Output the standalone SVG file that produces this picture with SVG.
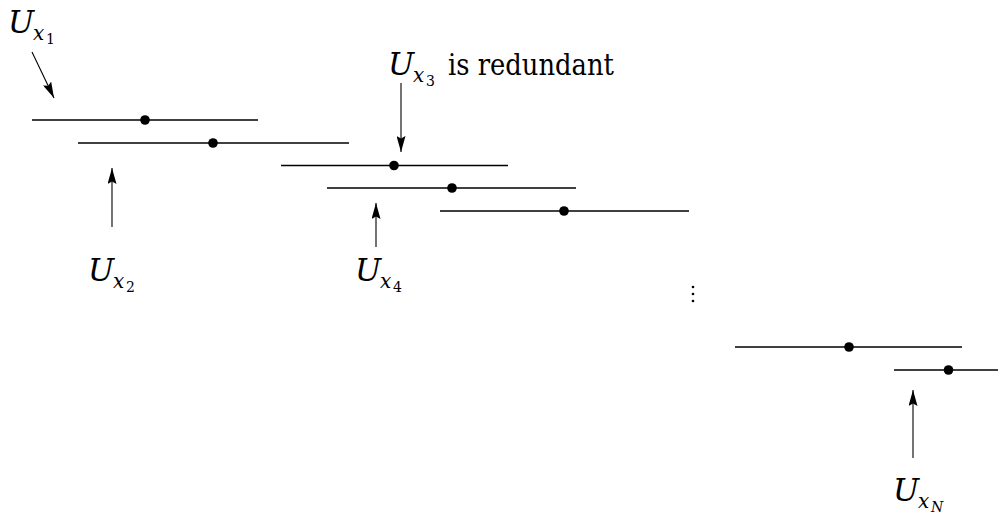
<svg xmlns="http://www.w3.org/2000/svg" width="998" height="516" viewBox="0 0 998 516">
<style>
.iv{stroke:#000;stroke-width:1.3;fill:none}
.dot{fill:#000}
.ar{stroke:#000;stroke-width:1.1;fill:none;marker-end:url(#ah)}
text{font-family:"DejaVu Serif","Liberation Serif",serif;fill:#000}
.U{font-style:italic;font-size:31px}
.x{font-style:italic;font-size:20px}
.n{font-size:14px}
.r{font-size:29px}
</style>
<defs>
<marker id="ah" viewBox="0 0 16 9" refX="16" refY="4.5" markerWidth="16" markerHeight="9" markerUnits="userSpaceOnUse" orient="auto">
<path d="M0,0 L16,4.5 L0,9 L2.5,4.5 Z" fill="#000"/>
</marker>
</defs>
<rect width="998" height="516" fill="#fff"/>
<g id="interval1"><line class="iv" x1="32" y1="120" x2="258" y2="120"/><circle class="dot" cx="145" cy="120" r="4.8"/></g>
<g id="interval2"><line class="iv" x1="78" y1="143" x2="349" y2="143"/><circle class="dot" cx="213" cy="143" r="4.8"/></g>
<g id="interval3"><line class="iv" x1="281" y1="165.5" x2="508" y2="165.5"/><circle class="dot" cx="394" cy="165.5" r="4.8"/></g>
<g id="interval4"><line class="iv" x1="327" y1="188" x2="576" y2="188"/><circle class="dot" cx="452" cy="188" r="4.8"/></g>
<g id="interval5"><line class="iv" x1="440" y1="211" x2="689" y2="211"/><circle class="dot" cx="564" cy="211" r="4.8"/></g>
<g id="interval6"><line class="iv" x1="735" y1="347" x2="962" y2="347"/><circle class="dot" cx="849" cy="347" r="4.8"/></g>
<g id="interval7"><line class="iv" x1="894" y1="370" x2="998" y2="370"/><circle class="dot" cx="948.5" cy="370" r="4.8"/></g>
<g id="vdots"><circle class="dot" cx="693" cy="287" r="1.3"/><circle class="dot" cx="693" cy="294" r="1.3"/><circle class="dot" cx="693" cy="301" r="1.3"/></g>
<g id="label1"><text class="U" x="8" y="33">U</text><text class="x" x="33" y="40">x</text><text class="n" x="46" y="44">1</text></g>
<g id="label2"><text class="U" x="88" y="281">U</text><text class="x" x="113" y="288">x</text><text class="n" x="126" y="292">2</text></g>
<g id="label3"><text class="U" x="388" y="75">U</text><text class="x" x="413" y="82">x</text><text class="n" x="426" y="86">3</text><text class="r" x="448" y="75" textLength="166" lengthAdjust="spacingAndGlyphs">is redundant</text></g>
<g id="label4"><text class="U" x="355" y="281">U</text><text class="x" x="380" y="288">x</text><text class="n" x="393" y="292">4</text></g>
<g id="labelN"><text class="U" x="893" y="501">U</text><text class="x" x="918" y="508">x</text><text class="n" x="931" y="512" font-style="italic">N</text></g>
<g id="connectors">
<line class="ar" x1="32" y1="52" x2="54" y2="98"/>
<line class="ar" x1="112" y1="227" x2="112" y2="168"/>
<line class="ar" x1="401" y1="83" x2="401" y2="152"/>
<line class="ar" x1="376" y1="247" x2="376" y2="203"/>
<line class="ar" x1="913" y1="458" x2="913" y2="390"/>
</g>
</svg>
